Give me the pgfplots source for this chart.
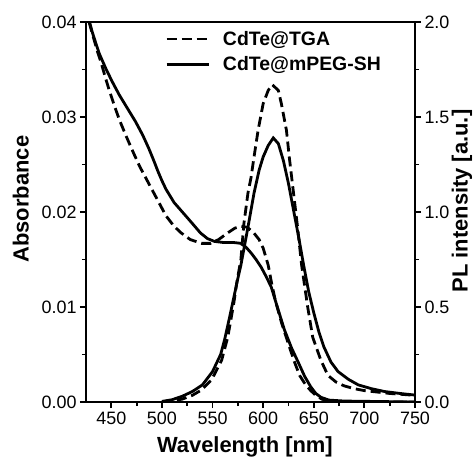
\documentclass[border=0pt]{standalone}
\usepackage{pgfplots}
\pgfplotsset{compat=1.18}
\usepackage{fontspec}
\setmainfont{Liberation Sans}

% absorbance, CdTe@TGA
\pgfplotstableread{
x y
428 0.0400
432 0.0385
436 0.0370
440 0.0357
444 0.0342
448 0.0328
453 0.0312
458 0.0297
465 0.0279
472 0.0262
478 0.0248
485 0.0234
495 0.0214
504 0.0196
512 0.0185
519 0.0178
528 0.0171
539 0.0167
548 0.0167
556 0.0171
565 0.0178
572 0.0183
578 0.0185
584 0.0184
590 0.0179
596 0.0171
600 0.0162
605 0.0144
608 0.0127
612 0.0107
618 0.0084
625 0.0061
631 0.0042
636 0.0028
642 0.0018
647 0.0012
652 0.0007
658 0.0003
665 0.0001
680 0.0000
750 0.0000
}\absTGA

% absorbance, CdTe@mPEG-SH
\pgfplotstableread{
x y
428 0.0402
431 0.0390
434 0.0380
438 0.0367
445 0.0350
451 0.0337
458 0.0323
466 0.0309
474 0.0295
481 0.0281
487 0.0267
492 0.0254
496 0.0243
500 0.0233
504 0.0224
512 0.0210
521 0.0199
530 0.0188
538 0.0178
545 0.0172
552 0.0169
560 0.0168
570 0.0168
578 0.0167
583 0.0163
588 0.0157
593 0.0150
598 0.0142
603 0.0132
608 0.0121
614 0.0100
621 0.0076
628 0.0057
635 0.0041
641 0.0027
647 0.0016
652 0.0009
657 0.0005
665 0.0002
680 0.0001
750 0.0000
}\absPEG

% PL, CdTe@TGA
\pgfplotstableread{
x y
500 0.000
510 0.005
520 0.015
530 0.035
539 0.063
549 0.116
559 0.220
565 0.340
571 0.520
574 0.630
578 0.750
581 0.940
585 1.100
588 1.180
591 1.290
595 1.430
600 1.570
605 1.640
609 1.670
615 1.640
618 1.570
623 1.430
626 1.280
630 1.100
634 0.920
638 0.720
644 0.500
649 0.340
657 0.220
664 0.140
672 0.105
680 0.085
690 0.070
700 0.060
725 0.045
750 0.035
}\plTGA

% PL, CdTe@mPEG-SH
\pgfplotstableread{
x y
500 0.003
510 0.012
520 0.030
530 0.055
540 0.090
550 0.160
558 0.250
562 0.330
567 0.450
571 0.550
575 0.650
578 0.720
585 0.920
591 1.100
596 1.220
600 1.290
605 1.350
610 1.390
615 1.360
620 1.270
625 1.150
630 1.010
635 0.870
640 0.720
645 0.580
650 0.470
655 0.370
660 0.290
667 0.210
674 0.160
684 0.120
694 0.090
707 0.070
720 0.055
735 0.045
749 0.037
}\plPEG

\pgfplotsset{
  base/.style={
    scale only axis, width=329bp, height=380bp,
    at={(0,0)}, anchor=south west,
    xmin=425, xmax=750,
    axis line style={line width=2.6bp},
    tick style={line width=1.8bp, black},
    tick align=outside,
    major tick length=6bp, minor tick length=4bp,
    ticklabel style={font=\fontsize{18}{18}\selectfont},
    label style={font=\fontsize{22}{22}\selectfont\bfseries},
    /pgf/number format/assume math mode=true,
  },
  dsh/.style={black, line width=2.8bp, dash pattern=on 10bp off 5bp},
  sld/.style={black, line width=2.8bp},
}

\begin{document}
\begin{tikzpicture}
\begin{axis}[base,
  ymin=0, ymax=0.04,
  xtick={450,500,...,750}, minor x tick num=1,
  ytick={0,0.01,...,0.04}, minor y tick num=1,
  xtick pos=bottom, ytick pos=left,
  yticklabel style={/pgf/number format/.cd, fixed, fixed zerofill, precision=2},
  scaled y ticks=false,
  xlabel={Wavelength [nm]}, ylabel={Absorbance},
  xlabel style={at={(axis description cs:0.483,0)}, anchor=base, yshift=-50bp},
  ylabel style={at={(axis description cs:-0.198,0.534)}, anchor=center},
  legend style={at={(axis description cs:0.231,0.987)}, anchor=north west, draw=none, fill=none,
    font=\fontsize{19.5}{19.5}\selectfont\bfseries, row sep=6bp},
  legend cell align=left,
  legend image code/.code={\draw[#1] (0bp,0bp) -- (42bp,0bp); \path (53bp,0bp);},
]
\addplot[dsh] table {\absTGA};
\addlegendentry{CdTe@TGA}
\addplot[sld] table {\absPEG};
\addlegendentry{CdTe@mPEG-SH}
\end{axis}
\begin{axis}[base,
  ymin=0, ymax=2,
  xtick=\empty,
  ytick={0,0.5,...,2}, minor y tick num=1,
  ytick pos=right, yticklabel pos=right,
  yticklabel style={/pgf/number format/.cd, fixed, fixed zerofill, precision=1},
  ylabel={PL intensity [a.u.]},
  ylabel style={at={(axis description cs:1.143,0.529)}, anchor=center, rotate=0},
]
\addplot[dsh] table {\plTGA};
\addplot[sld] table {\plPEG};
\end{axis}
\pgfresetboundingbox
\path (-86bp,-55bp) rectangle (388bp,402bp);
\end{tikzpicture}
\end{document}
